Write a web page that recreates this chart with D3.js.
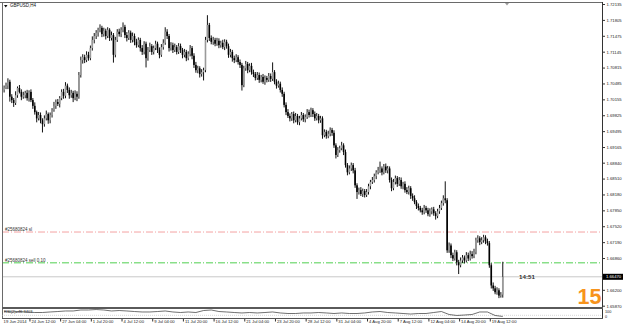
<!DOCTYPE html>
<html><head><meta charset="utf-8">
<script src="https://cdn.jsdelivr.net/npm/d3@7"></script>
<style>html,body{margin:0;padding:0;background:#fff;overflow:hidden}svg{display:block}text{font-family:"Liberation Sans",Arial,sans-serif}</style>
</head><body><svg id="c" width="625" height="328"></svg>
<script>
const symbolTitle = "GBPUSD,H4";
const opens = [
1.7035,1.7040,1.7044,1.7052,1.7021,1.7014,1.7008,1.7024,1.7039,1.7031,
1.7021,1.7024,1.7029,1.7018,1.7031,1.7014,1.7002,1.6989,1.6976,1.6983,
1.6972,1.6964,1.6976,1.6985,1.6972,1.6983,1.6993,1.7002,1.7010,1.7006,
1.7018,1.7031,1.7023,1.7044,1.7035,1.7024,1.7029,1.7018,1.7027,1.7021,
1.7066,1.7097,1.7103,1.7097,1.7108,1.7101,1.7122,1.7139,1.7147,1.7154,
1.7160,1.7164,1.7151,1.7158,1.7147,1.7160,1.7143,1.7149,1.7108,1.7139,
1.7156,1.7151,1.7160,1.7166,1.7149,1.7143,1.7154,1.7139,1.7147,1.7135,
1.7128,1.7139,1.7122,1.7114,1.7131,1.7101,1.7118,1.7126,1.7114,1.7122,
1.7131,1.7118,1.7108,1.7124,1.7133,1.7156,1.7147,1.7122,1.7128,1.7118,
1.7124,1.7114,1.7126,1.7118,1.7108,1.7114,1.7101,1.7110,1.7122,1.7106,
1.7087,1.7076,1.7080,1.7068,1.7072,1.7076,1.7139,1.7170,1.7143,1.7135,
1.7139,1.7131,1.7137,1.7128,1.7133,1.7124,1.7135,1.7126,1.7108,1.7114,
1.7101,1.7097,1.7103,1.7093,1.7087,1.7045,1.7080,1.7089,1.7076,1.7085,
1.7072,1.7068,1.7060,1.7066,1.7056,1.7062,1.7052,1.7060,1.7056,1.7064,
1.7058,1.7072,1.7052,1.7044,1.7048,1.7035,1.7027,1.7004,1.6989,1.6981,
1.6976,1.6985,1.6972,1.6981,1.6968,1.6976,1.6983,1.6974,1.6979,1.6989,
1.6983,1.6993,1.6985,1.6976,1.6981,1.6972,1.6976,1.6941,1.6948,1.6939,
1.6944,1.6952,1.6946,1.6920,1.6900,1.6910,1.6914,1.6920,1.6906,1.6879,
1.6864,1.6872,1.6879,1.6868,1.6837,1.6823,1.6827,1.6819,1.6825,1.6817,
1.6823,1.6835,1.6844,1.6848,1.6856,1.6864,1.6868,1.6872,1.6864,1.6876,
1.6868,1.6872,1.6848,1.6831,1.6844,1.6852,1.6840,1.6848,1.6835,1.6840,
1.6827,1.6823,1.6831,1.6815,1.6810,1.6802,1.6794,1.6790,1.6785,1.6781,
1.6790,1.6785,1.6777,1.6783,1.6787,1.6779,1.6773,1.6783,1.6790,1.6800,
1.6810,1.6806,1.6702,1.6712,1.6692,1.6685,1.6698,1.6677,1.6671,1.6681,
1.6687,1.6681,1.6692,1.6685,1.6694,1.6690,1.6698,1.6723,1.6727,1.6719,
1.6723,1.6729,1.6721,1.6717,1.6671,1.6629,1.6623,1.6615,1.6619,1.6608,
1.6610];
const highs = [
1.7043,1.7049,1.7058,1.7055,1.7025,1.7017,1.7031,1.7041,1.7044,1.7035,
1.7030,1.7032,1.7034,1.7033,1.7035,1.7017,1.7008,1.6991,1.6988,1.6987,
1.6975,1.6981,1.6991,1.6987,1.6987,1.6996,1.7009,1.7014,1.7015,1.7021,
1.7035,1.7036,1.7050,1.7047,1.7039,1.7034,1.7032,1.7033,1.7031,1.7071,
1.7103,1.7108,1.7107,1.7114,1.7113,1.7126,1.7145,1.7152,1.7158,1.7163,
1.7170,1.7167,1.7163,1.7161,1.7164,1.7162,1.7155,1.7152,1.7144,1.7160,
1.7161,1.7164,1.7174,1.7169,1.7154,1.7158,1.7157,1.7153,1.7151,1.7140,
1.7143,1.7142,1.7127,1.7135,1.7134,1.7123,1.7132,1.7129,1.7126,1.7136,
1.7134,1.7122,1.7129,1.7139,1.7164,1.7160,1.7150,1.7133,1.7132,1.7130,
1.7127,1.7131,1.7130,1.7121,1.7119,1.7117,1.7114,1.7127,1.7125,1.7110,
1.7092,1.7084,1.7083,1.7077,1.7080,1.7144,1.7189,1.7173,1.7147,1.7144,
1.7142,1.7142,1.7141,1.7136,1.7138,1.7139,1.7138,1.7130,1.7119,1.7117,
1.7105,1.7108,1.7106,1.7097,1.7090,1.7084,1.7094,1.7092,1.7089,1.7090,
1.7076,1.7071,1.7071,1.7070,1.7065,1.7067,1.7064,1.7063,1.7069,1.7068,
1.7091,1.7075,1.7056,1.7053,1.7051,1.7039,1.7030,1.7008,1.6994,1.6985,
1.6988,1.6989,1.6986,1.6984,1.6980,1.6988,1.6986,1.6983,1.6994,1.6993,
1.6997,1.6996,1.6989,1.6986,1.6984,1.6980,1.6979,1.6952,1.6951,1.6949,
1.6956,1.6955,1.6950,1.6923,1.6915,1.6918,1.6926,1.6923,1.6910,1.6882,
1.6877,1.6883,1.6882,1.6872,1.6840,1.6831,1.6832,1.6829,1.6828,1.6828,
1.6839,1.6847,1.6853,1.6860,1.6867,1.6874,1.6885,1.6875,1.6880,1.6881,
1.6876,1.6875,1.6852,1.6849,1.6856,1.6855,1.6853,1.6852,1.6843,1.6844,
1.6832,1.6835,1.6834,1.6819,1.6815,1.6805,1.6798,1.6793,1.6789,1.6795,
1.6793,1.6789,1.6788,1.6790,1.6791,1.6782,1.6787,1.6795,1.6804,1.6815,
1.6844,1.6809,1.6717,1.6715,1.6696,1.6702,1.6701,1.6681,1.6686,1.6691,
1.6690,1.6697,1.6696,1.6700,1.6699,1.6704,1.6727,1.6732,1.6730,1.6728,
1.6733,1.6732,1.6725,1.6720,1.6674,1.6634,1.6627,1.6624,1.6622,1.6614,
1.6677];
const lows = [
1.7031,1.7038,1.7038,1.7012,1.7009,1.7001,1.7005,1.7020,1.7029,1.7015,
1.7018,1.7019,1.7014,1.7012,1.7011,1.6997,1.6985,1.6969,1.6973,1.6967,
1.6948,1.6960,1.6973,1.6966,1.6967,1.6979,1.6991,1.6997,1.7003,1.7000,
1.7015,1.7018,1.7019,1.7030,1.7018,1.7020,1.7011,1.7015,1.7013,1.7018,
1.7062,1.7091,1.7092,1.7094,1.7097,1.7098,1.7118,1.7133,1.7142,1.7147,
1.7156,1.7146,1.7147,1.7141,1.7144,1.7138,1.7139,1.7093,1.7104,1.7136,
1.7147,1.7146,1.7156,1.7144,1.7137,1.7140,1.7134,1.7135,1.7129,1.7124,
1.7125,1.7116,1.7109,1.7110,1.7083,1.7097,1.7115,1.7109,1.7110,1.7119,
1.7113,1.7102,1.7105,1.7120,1.7130,1.7142,1.7116,1.7118,1.7113,1.7115,
1.7110,1.7111,1.7113,1.7102,1.7104,1.7096,1.7098,1.7106,1.7100,1.7082,
1.7072,1.7071,1.7062,1.7064,1.7056,1.7073,1.7135,1.7138,1.7131,1.7130,
1.7127,1.7128,1.7123,1.7124,1.7121,1.7119,1.7122,1.7103,1.7104,1.7095,
1.7092,1.7094,1.7089,1.7082,1.7035,1.7042,1.7076,1.7071,1.7073,1.7068,
1.7063,1.7056,1.7057,1.7051,1.7052,1.7049,1.7047,1.7052,1.7053,1.7053,
1.7055,1.7048,1.7039,1.7041,1.7031,1.7022,1.7000,1.6984,1.6978,1.6971,
1.6972,1.6967,1.6969,1.6964,1.6963,1.6973,1.6970,1.6969,1.6976,1.6979,
1.6980,1.6980,1.6972,1.6973,1.6967,1.6968,1.6935,1.6938,1.6935,1.6936,
1.6940,1.6941,1.6916,1.6894,1.6897,1.6906,1.6911,1.6901,1.6875,1.6859,
1.6861,1.6868,1.6863,1.6833,1.6810,1.6819,1.6816,1.6814,1.6813,1.6814,
1.6819,1.6830,1.6841,1.6844,1.6851,1.6861,1.6864,1.6859,1.6861,1.6864,
1.6863,1.6844,1.6826,1.6828,1.6840,1.6835,1.6837,1.6831,1.6830,1.6823,
1.6820,1.6819,1.6810,1.6806,1.6799,1.6789,1.6786,1.6782,1.6777,1.6778,
1.6781,1.6774,1.6773,1.6778,1.6775,1.6767,1.6770,1.6779,1.6787,1.6796,
1.6801,1.6698,1.6698,1.6687,1.6681,1.6682,1.6672,1.6654,1.6668,1.6677,
1.6676,1.6678,1.6681,1.6682,1.6686,1.6687,1.6695,1.6719,1.6714,1.6716,
1.6719,1.6716,1.6713,1.6667,1.6624,1.6619,1.6612,1.6611,1.6604,1.6605,
1.6605];
const closes = [
1.7040,1.7044,1.7052,1.7021,1.7014,1.7008,1.7024,1.7039,1.7031,1.7021,
1.7024,1.7029,1.7018,1.7031,1.7014,1.7002,1.6989,1.6976,1.6983,1.6972,
1.6964,1.6976,1.6985,1.6972,1.6983,1.6993,1.7002,1.7010,1.7006,1.7018,
1.7031,1.7023,1.7044,1.7035,1.7024,1.7029,1.7018,1.7027,1.7021,1.7066,
1.7097,1.7103,1.7097,1.7108,1.7101,1.7122,1.7139,1.7147,1.7154,1.7160,
1.7164,1.7151,1.7158,1.7147,1.7160,1.7143,1.7149,1.7108,1.7139,1.7156,
1.7151,1.7160,1.7166,1.7149,1.7143,1.7154,1.7139,1.7147,1.7135,1.7128,
1.7139,1.7122,1.7114,1.7131,1.7101,1.7118,1.7126,1.7114,1.7122,1.7131,
1.7118,1.7108,1.7124,1.7133,1.7156,1.7147,1.7122,1.7128,1.7118,1.7124,
1.7114,1.7126,1.7118,1.7108,1.7114,1.7101,1.7110,1.7122,1.7106,1.7087,
1.7076,1.7080,1.7068,1.7072,1.7076,1.7139,1.7170,1.7143,1.7135,1.7139,
1.7131,1.7137,1.7128,1.7133,1.7124,1.7135,1.7126,1.7108,1.7114,1.7101,
1.7097,1.7103,1.7093,1.7087,1.7045,1.7080,1.7089,1.7076,1.7085,1.7072,
1.7068,1.7060,1.7066,1.7056,1.7062,1.7052,1.7060,1.7056,1.7064,1.7058,
1.7072,1.7052,1.7044,1.7048,1.7035,1.7027,1.7004,1.6989,1.6981,1.6976,
1.6985,1.6972,1.6981,1.6968,1.6976,1.6983,1.6974,1.6979,1.6989,1.6983,
1.6993,1.6985,1.6976,1.6981,1.6972,1.6976,1.6941,1.6948,1.6939,1.6944,
1.6952,1.6946,1.6920,1.6900,1.6910,1.6914,1.6920,1.6906,1.6879,1.6864,
1.6872,1.6879,1.6868,1.6837,1.6823,1.6827,1.6819,1.6825,1.6817,1.6823,
1.6835,1.6844,1.6848,1.6856,1.6864,1.6868,1.6872,1.6864,1.6876,1.6868,
1.6872,1.6848,1.6831,1.6844,1.6852,1.6840,1.6848,1.6835,1.6840,1.6827,
1.6823,1.6831,1.6815,1.6810,1.6802,1.6794,1.6790,1.6785,1.6781,1.6790,
1.6785,1.6777,1.6783,1.6787,1.6779,1.6773,1.6783,1.6790,1.6800,1.6810,
1.6806,1.6702,1.6712,1.6692,1.6685,1.6698,1.6677,1.6671,1.6681,1.6687,
1.6681,1.6692,1.6685,1.6694,1.6690,1.6698,1.6723,1.6727,1.6719,1.6723,
1.6729,1.6721,1.6717,1.6671,1.6629,1.6623,1.6615,1.6619,1.6608,1.6610,
1.6647];
// 1.66530 is hidden behind the bid price label in the reference
const yTickValues = [1.72135,1.71805,1.71475,1.71145,1.70815,1.70485,1.70155,1.69825,1.69495,1.69165,1.68840,1.68510,1.68180,1.67850,1.67520,1.67190,1.66860,1.66200,1.65870];
const xTickBars = [0,14,30,46,62,78,94,110,126,142,158,174,190,206,222,238,254];
const xTickLabels = ["19 Jun 2014","24 Jun 12:00","27 Jun 04:00","1 Jul 20:00","4 Jul 12:00","9 Jul 04:00","11 Jul 20:00","16 Jul 12:00","21 Jul 04:00","23 Jul 20:00","28 Jul 12:00","31 Jul 04:00","4 Aug 20:00","7 Aug 12:00","12 Aug 04:00","14 Aug 20:00","19 Aug 12:00"];
const orderLabels = ["#25680824 sl","#25680824 sell 0.10"];
const orderPrices = [1.6740, 1.6676];
const indBars = d3.range(0, 261, 4);
const indValues = [72,67,72,67,61,61,67,72,78,78,89,89,94,89,78,83,78,72,67,67,72,78,67,61,67,61,83,89,72,67,61,56,61,56,61,67,56,50,50,56,56,61,56,50,56,50,50,56,67,72,61,56,50,44,50,50,61,72,39,28,33,39,67,67,28,17];
const indText = "RSI(2)=46.3403";
const timerText = "14:51";
const cornerNumber = "15";

const svg = d3.select("#c");
const W = 625, H = 328;
const plotL = 2, plotR = 602;
const x = d3.scaleLinear().domain([0, 260]).range([4.1, 4.1 + 260*1.918]);
const y = d3.scaleLinear().domain([1.65870, 1.72135]).range([305.7, 4]);
const yInd = d3.scaleLinear().domain([0, 100]).range([318, 309]);
const FONT = '"Liberation Sans",Arial,sans-serif';

svg.append("rect").attr("width", W).attr("height", H).attr("fill", "#fff");

// bid line
const bid = closes[closes.length-1];
svg.append("line").attr("x1", plotL).attr("x2", plotR).attr("y1", y(bid)).attr("y2", y(bid))
  .attr("stroke", "#c8c8c8").attr("stroke-width", 1);

// order lines
const orderColors = ["#f4a3a3", "#4fcf4f"];
orderPrices.forEach((p, k) => {
  svg.append("line").attr("x1", plotL).attr("x2", plotR).attr("y1", y(p)).attr("y2", y(p))
    .attr("stroke", orderColors[k]).attr("stroke-width", 1).attr("stroke-dasharray", "7,2,1,2");
  svg.append("text").attr("x", 5).attr("y", y(p) - 1.2).attr("font-size", 4.5).attr("fill", "#333")
    .text(orderLabels[k]);
});

// candles
const g = svg.append("g");
const idx = d3.range(closes.length);
g.selectAll("line.w").data(idx).join("line").attr("class", "w")
  .attr("x1", i => x(i)).attr("x2", i => x(i))
  .attr("y1", i => y(highs[i]) - 0.6).attr("y2", i => y(lows[i]) + 0.6)
  .attr("stroke", "#111").attr("stroke-width", 1);
g.selectAll("rect.b").data(idx).join("rect").attr("class", "b")
  .attr("x", i => x(i) - 0.8).attr("width", 1.6)
  .attr("y", i => y(Math.max(opens[i], closes[i])))
  .attr("height", i => Math.max(0.8, Math.abs(y(opens[i]) - y(closes[i]))))
  .attr("fill", i => closes[i] >= opens[i] ? "#9a9a9a" : "#000");

// frame
svg.append("line").attr("x1", 0).attr("x2", plotR).attr("y1", 2.5).attr("y2", 2.5).attr("stroke", "#6a6a6a");
svg.append("line").attr("x1", 2.5).attr("x2", 2.5).attr("y1", 2).attr("y2", 318).attr("stroke", "#6a6a6a");
svg.append("line").attr("x1", plotR + 0.5).attr("x2", plotR + 0.5).attr("y1", 2).attr("y2", 318).attr("stroke", "#333");
svg.append("rect").attr("x", 2).attr("y", 307).attr("width", 601).attr("height", 2).attr("fill", "#5a5a5a");
svg.append("line").attr("x1", 2).attr("x2", plotR + 1).attr("y1", 318.5).attr("y2", 318.5).attr("stroke", "#555");

// title
svg.append("path").attr("d", "M4,5 L7.5,5 L5.75,7.5 Z").attr("fill", "#111");
svg.append("text").attr("x", 10).attr("y", 7.3).attr("font-size", 4.5).attr("fill", "#111").text(symbolTitle);
// chart shift marker
svg.append("path").attr("d", "M505,3 L509,3 L507,5.5 Z").attr("fill", "#999");

// y axis
const yAxis = d3.axisRight(y).tickValues(yTickValues).tickSize(2).tickPadding(1.5).tickFormat(d3.format(".5f"));
const ya = svg.append("g").attr("transform", `translate(${plotR + 1},0)`).call(yAxis);
ya.select(".domain").remove();
ya.selectAll("line").attr("stroke", "#333");
ya.selectAll("text").attr("font-size", 4.2).attr("fill", "#222").attr("font-family", FONT);

// bid label
const bidY = y(bid);
svg.append("rect").attr("x", 603).attr("y", bidY - 3).attr("width", 20).attr("height", 6).attr("fill", "#000");
svg.append("text").attr("x", 606).attr("y", bidY + 1.6).attr("font-size", 4.2).attr("fill", "#fff").text(d3.format(".5f")(bid));

// timer + corner number
svg.append("text").attr("x", 519).attr("y", bidY + 2).attr("font-size", 6.2).attr("font-weight", "bold").attr("fill", "#333").text(timerText);
svg.append("text").attr("x", 577.5).attr("y", 303.5).attr("font-size", 21.5).attr("font-weight", "bold").attr("fill", "#f7941d").text(cornerNumber);

// indicator
svg.append("line").attr("x1", 2).attr("x2", plotR).attr("y1", yInd(30)).attr("y2", yInd(30)).attr("stroke", "#bbb").attr("stroke-width", 0.6).attr("stroke-dasharray", "1,1");
svg.append("path").datum(indBars).attr("fill", "none").attr("stroke", "#333").attr("stroke-width", 0.7)
  .attr("d", d3.line().x(i => x(i)).y((i, k) => yInd(indValues[k])));
svg.append("text").attr("x", 4).attr("y", 312.5).attr("font-size", 4).attr("fill", "#222").text(indText);
svg.append("text").attr("x", 605).attr("y", 312.5).attr("font-size", 3.8).attr("fill", "#222").text("100");
svg.append("text").attr("x", 605).attr("y", 317.5).attr("font-size", 3.8).attr("fill", "#222").text("0");

// x axis
const xAxis = d3.axisBottom(x).tickValues(xTickBars).tickSize(2.5).tickPadding(1).tickFormat((d, k) => xTickLabels[k]);
const xa = svg.append("g").attr("transform", "translate(0,319)").call(xAxis);
xa.select(".domain").remove();
xa.selectAll("line").attr("stroke", "#333").attr("transform", "translate(-1.5,0)");
xa.selectAll("text").attr("text-anchor", "start").attr("font-size", 4.2).attr("fill", "#222")
  .attr("font-family", FONT).attr("dy", "0.2em");
xa.selectAll(".tick").filter(d => d === 0).select("line").remove();
xa.selectAll(".tick").filter(d => d === 0).select("text").attr("x", -1);
</script></body></html>
